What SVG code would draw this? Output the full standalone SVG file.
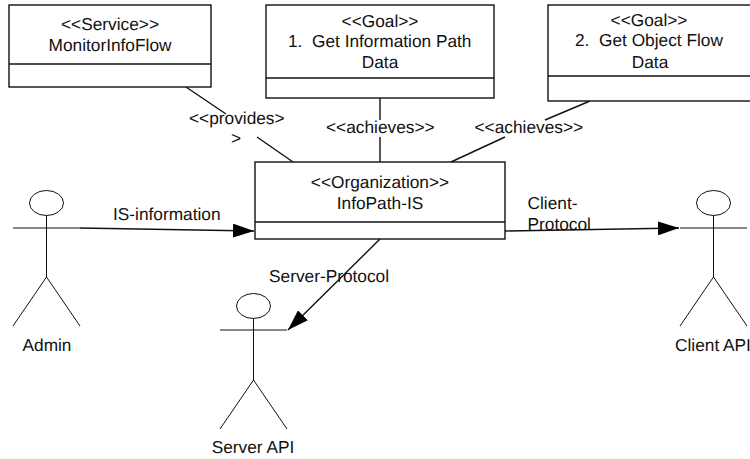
<svg xmlns="http://www.w3.org/2000/svg" width="750" height="459" viewBox="0 0 750 459">
<style>
text{font-family:"Liberation Sans",Arial,sans-serif;font-size:17.3px;fill:#111;text-rendering:geometricPrecision}
.m{text-anchor:middle}
.box{fill:#fff;stroke:#111;stroke-width:1.4}
.ln{fill:none;stroke:#111;stroke-width:1.4}
.act{fill:none;stroke:#111;stroke-width:1}
</style>
<defs>
<marker id="arr" markerUnits="userSpaceOnUse" markerWidth="22" markerHeight="14" refX="21" refY="7" orient="auto"><path d="M0 0L21 7L0 14Z" fill="#000"/></marker>
</defs>
<g id="connectors">
<path class="ln" d="M186 87L226 114M257 137L293 162"/>
<path class="ln" d="M380 98V120M380 137V162"/>
<path class="ln" d="M590 101L545 120M505 137L451 162"/>
<path class="ln" d="M80 228L254 231" marker-end="url(#arr)"/>
<path class="ln" d="M505 231L679 228" marker-end="url(#arr)"/>
<path class="ln" d="M380 239L288 330" marker-end="url(#arr)"/>
</g>
<g id="service">
<rect class="box" x="9" y="5" width="202" height="82"/>
<path class="ln" d="M9 64H211"/>
<text class="m" x="110" y="30">&lt;&lt;Service&gt;&gt;</text>
<text class="m" x="110" y="50.500">MonitorInfoFlow</text>
</g>
<g id="goal1">
<rect class="box" x="266" y="5" width="228" height="93"/>
<path class="ln" d="M266 78H494"/>
<text class="m" x="380" y="26.500">&lt;&lt;Goal&gt;&gt;</text>
<text x="288" y="47">1.</text><text x="312" y="47">Get Information Path</text>
<text class="m" x="380" y="68">Data</text>
</g>
<g id="goal2">
<rect class="box" x="548" y="5" width="210" height="96"/>
<path class="ln" d="M548 76H758"/>
<text class="m" x="649" y="26">&lt;&lt;Goal&gt;&gt;</text>
<text x="575" y="46">2.</text><text x="599" y="46">Get Object Flow</text>
<text class="m" x="650" y="67.500">Data</text>
</g>
<g id="organization">
<rect class="box" x="255" y="162" width="250" height="77"/>
<path class="ln" d="M255 222H505"/>
<text class="m" x="380" y="187.500">&lt;&lt;Organization&gt;&gt;</text>
<text class="m" x="380" y="208.500">InfoPath-IS</text>
</g>
<g id="admin">
<ellipse class="act" cx="46.500" cy="203" rx="17" ry="12.500"/>
<path class="act" d="M13 228H80M46.500 215.500V277M46.500 277L13 326M46.500 277L80 326"/>
<text class="m" x="47" y="351">Admin</text>
</g>
<g id="serverapi">
<ellipse class="act" cx="253.500" cy="306" rx="17" ry="12.500"/>
<path class="act" d="M220 330H287M253.500 318.500V380M253.500 380L220 429M253.500 380L287 429"/>
<text class="m" x="253" y="453">Server API</text>
</g>
<g id="clientapi">
<ellipse class="act" cx="713.500" cy="203" rx="17" ry="12.500"/>
<path class="act" d="M680 228H747M713.500 215.500V277M713.500 277L680 326M713.500 277L747 326"/>
<text x="675" y="351">Client API</text>
</g>
<g id="labels">
<text x="189" y="124">&lt;&lt;provides&gt;</text>
<text x="231" y="144">&gt;</text>
<text x="326" y="133">&lt;&lt;achieves&gt;&gt;</text>
<text x="474.500" y="133">&lt;&lt;achieves&gt;&gt;</text>
<text x="113" y="220">IS-information</text>
<text x="527.500" y="209">Client-</text>
<text x="527.500" y="230">Protocol</text>
<text x="269" y="282">Server-Protocol</text>
</g>
</svg>
